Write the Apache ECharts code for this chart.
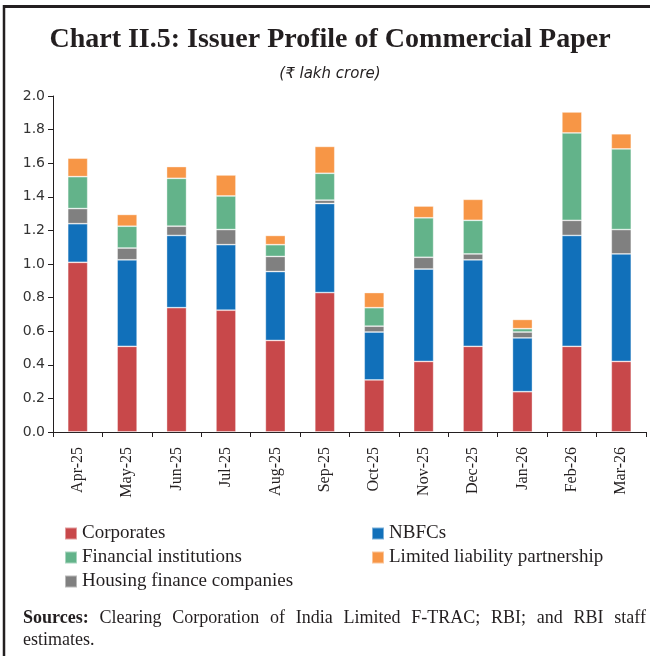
<!DOCTYPE html>
<html>
<head>
<meta charset="utf-8">
<style>
  html, body { margin: 0; padding: 0; background: #fff; }
  #chart { width: 650px; height: 656px; }
</style>
<script src="https://cdn.jsdelivr.net/npm/echarts@6/dist/echarts.min.js"></script>
</head>
<body>
<div id="chart"></div>
<script>
// Months on the category axis
const months = ['Apr-25', 'May-25', 'Jun-25', 'Jul-25', 'Aug-25', 'Sep-25',
                'Oct-25', 'Nov-25', 'Dec-25', 'Jan-26', 'Feb-26', 'Mar-26'];

// Commercial paper issuance by issuer type (₹ lakh crore)
const corporates     = [1.01, 0.51, 0.74, 0.725, 0.545, 0.83, 0.31, 0.42, 0.51, 0.24, 0.51, 0.42];
const nbfcs          = [0.23, 0.515, 0.43, 0.39, 0.41, 0.53, 0.285, 0.55, 0.515, 0.32, 0.66, 0.64];
const housingFinance = [0.09, 0.07, 0.055, 0.09, 0.09, 0.02, 0.035, 0.07, 0.035, 0.035, 0.09, 0.145];
const finInstitutions= [0.19, 0.13, 0.285, 0.2, 0.07, 0.16, 0.11, 0.235, 0.2, 0.02, 0.52, 0.48];
const llp            = [0.11, 0.07, 0.07, 0.125, 0.055, 0.16, 0.09, 0.07, 0.125, 0.055, 0.125, 0.09];

// Value axis ticks
const yTicks = ['0.0', '0.2', '0.4', '0.6', '0.8', '1.0', '1.2', '1.4', '1.6', '1.8', '2.0'];

const seriesDefs = [
  { name: 'Corporates', data: corporates, color: '#C8484A' },
  { name: 'NBFCs', data: nbfcs, color: '#1170BA' },
  { name: 'Housing finance companies', data: housingFinance, color: '#808080' },
  { name: 'Financial institutions', data: finInstitutions, color: '#63B38A' },
  { name: 'Limited liability partnership', data: llp, color: '#F79646' }
];

const serif = '"Liberation Serif", "DejaVu Serif", serif';
const sans = '"DejaVu Sans", sans-serif';

// Lay out the source note as a justified line
function justifiedLine(words, left, right, y, size) {
  const ctx = document.createElement('canvas').getContext('2d');
  const widths = words.map(w => {
    ctx.font = (w.bold ? 'bold ' : '') + size + 'px ' + serif;
    return ctx.measureText(w.text).width;
  });
  const total = widths.reduce((a, b) => a + b, 0);
  const gap = (right - left - total) / (words.length - 1);
  let x = left;
  return words.map((w, i) => {
    const el = {
      type: 'text', x: x, y: y,
      style: {
        text: w.text, fill: '#231f20',
        font: (w.bold ? 'bold ' : '') + size + 'px ' + serif,
        textAlign: 'left', textVerticalAlign: 'middle'
      }
    };
    x += widths[i] + gap;
    return el;
  });
}

const noteWords = [
  { text: 'Sources:', bold: true }, { text: 'Clearing' }, { text: 'Corporation' },
  { text: 'of' }, { text: 'India' }, { text: 'Limited' }, { text: 'F-TRAC;' },
  { text: 'RBI;' }, { text: 'and' }, { text: 'RBI' }, { text: 'staff' }
];

const chart = echarts.init(document.getElementById('chart'), null, { renderer: 'canvas' });

const legendText = { fontFamily: serif, fontSize: 19, color: '#231f20' };

chart.setOption({
  animation: false,
  backgroundColor: '#fff',
  grid: { left: 53, right: 4, top: 96, bottom: 224, containLabel: false },
  legend: [
    {
      orient: 'vertical', left: 59, top: 519,
      data: ['Corporates', 'Financial institutions', 'Housing finance companies'],
      icon: 'rect', itemWidth: 12, itemHeight: 12, itemGap: 5,
      textStyle: legendText, selectedMode: false
    },
    {
      orient: 'vertical', left: 366, top: 519,
      data: ['NBFCs', 'Limited liability partnership'],
      icon: 'rect', itemWidth: 12, itemHeight: 12, itemGap: 5,
      textStyle: legendText, selectedMode: false
    }
  ],
  xAxis: {
    type: 'category',
    data: months,
    axisLine: { lineStyle: { color: '#231f20', width: 1 } },
    axisTick: { show: true, length: 5, lineStyle: { color: '#231f20' } },
    axisLabel: {
      rotate: 90, margin: 15, interval: 0,
      fontFamily: serif, fontSize: 16, color: '#231f20'
    }
  },
  yAxis: {
    type: 'value', min: 0, max: 2, interval: 0.2,
    axisLine: { show: true, lineStyle: { color: '#231f20', width: 1 } },
    axisTick: { show: true, length: 5, lineStyle: { color: '#231f20' } },
    splitLine: { show: false },
    axisLabel: {
      margin: 8, fontFamily: sans, fontSize: 14, color: '#333',
      formatter: v => yTicks[Math.round(v / 0.2)]
    }
  },
  series: seriesDefs.map(s => ({
    name: s.name,
    type: 'bar',
    stack: 'total',
    barWidth: 20,
    data: s.data,
    itemStyle: { color: s.color, borderColor: 'rgba(255,255,255,0.45)', borderWidth: 0.8 }
  })),
  graphic: [
    // frame lines
    { type: 'line', shape: { x1: 3, y1: 6.5, x2: 650, y2: 6.5 }, style: { stroke: '#231f20', lineWidth: 3 } },
    { type: 'line', shape: { x1: 4, y1: 5, x2: 4, y2: 656 }, style: { stroke: '#231f20', lineWidth: 2.5 } },
    {
      type: 'text', x: 330, y: 40,
      style: {
        text: 'Chart II.5: Issuer Profile of Commercial Paper',
        font: 'bold 28px ' + serif, fill: '#231f20',
        textAlign: 'center', textVerticalAlign: 'middle'
      }
    },
    {
      type: 'text', x: 330, y: 74,
      style: {
        text: '(₹ lakh crore)',
        font: 'italic 15px ' + sans, fill: '#231f20',
        textAlign: 'center', textVerticalAlign: 'middle'
      }
    },
    ...justifiedLine(noteWords, 23, 646, 618, 18),
    {
      type: 'text', x: 23, y: 640,
      style: {
        text: 'estimates.', font: '18px ' + serif, fill: '#231f20',
        textAlign: 'left', textVerticalAlign: 'middle'
      }
    }
  ]
});
</script>
</body>
</html>
